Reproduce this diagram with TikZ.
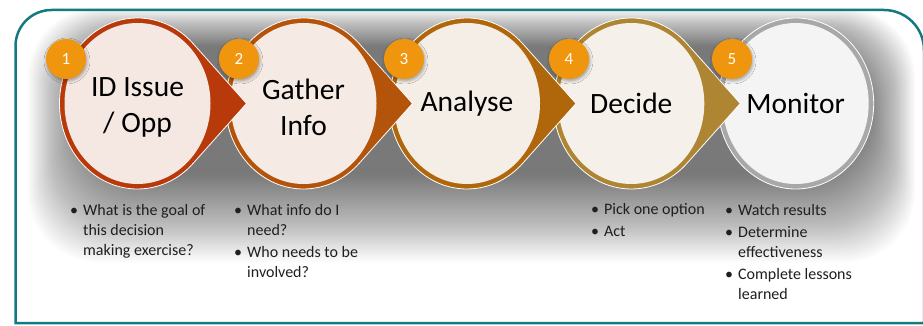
\documentclass[tikz,border=0pt]{standalone}
\usepackage{fontspec}
\setmainfont{Carlito}
\usetikzlibrary{shadows.blur}
\definecolor{frameteal}{HTML}{137A7F}
\definecolor{ringA}{HTML}{B8390A}
\definecolor{ringB}{HTML}{B4540B}
\definecolor{ringC}{HTML}{B0660A}
\definecolor{ringD}{HTML}{AE8532}
\definecolor{ringE}{HTML}{A8A8A8}
\definecolor{paleA}{HTML}{F5E8E3}
\definecolor{paleB}{HTML}{F5EAE4}
\definecolor{paleC}{HTML}{F5EEE6}
\definecolor{paleD}{HTML}{F5F1EA}
\definecolor{paleE}{HTML}{F4F4F4}
\definecolor{badgeorange}{HTML}{F0960E}
\newcommand\tdrop[3]{%
  \fill[#2, draw=white, line width=0.8pt] (#1+109,103.5) -- (#1+55.8,163.2)
    arc[start angle=44.3, end angle=315.7, x radius=78, y radius=85.5] -- cycle;
  \fill[#3] (#1,103.5) ellipse[x radius=73, y radius=80.5];
}
\newcommand\rdisc[3]{%
  \fill[#2, draw=white, line width=0.8pt] (#1,103.5) ellipse[x radius=78, y radius=85.5];
  \fill[#3] (#1,103.5) ellipse[x radius=73, y radius=80.5];
}
\tikzset{
  steplabel/.style={font=\fontsize{29.5}{36}\selectfont, align=center, text=black, inner sep=0pt},
  bul/.style={font=\fontsize{16}{20}\selectfont, align=left, anchor=base west, inner sep=0pt, text=black!88},
  badge/.style={circle, fill=badgeorange, text=white, minimum size=40pt, inner sep=0pt,
    font=\fontsize{17}{17}\selectfont,
    blur shadow={shadow xshift=1pt, shadow yshift=-2pt, shadow blur radius=3pt, shadow opacity=35}},
  frame/.style={draw=frameteal, line width=2.5pt},
  shadelayer/.style={fill=black, fill opacity=0.016, rounded corners=70pt},
}
\begin{document}
\begin{tikzpicture}[x=1pt,y=-1pt]
\useasboundingbox (0,0) rectangle (923,326);
\fill[white] (0,0) rectangle (923,326);
% soft shadow behind the band
\foreach \i in {0,...,39}{
  \fill[shadelayer] (28+1.5*\i,8+\i) rectangle (915-1.25*\i,262-2.25*\i);
}
% frame
\draw[frame] (15.5,323) -- (15.5,46) arc[start angle=180, end angle=270, radius=36]
  -- (884,10) arc[start angle=270, end angle=360, radius=40] -- (924,323) -- cycle;
% circles (right to left so each tip lies over the next circle)
\rdisc{795.7}{ringE}{paleE}
\tdrop{631.3}{ringD}{paleD}
\tdrop{467}{ringC}{paleC}
\tdrop{303.5}{ringB}{paleB}
\tdrop{137.5}{ringA}{paleA}
% labels
\node[steplabel] (s1) at (137.5,107.5) {ID Issue\\/ Opp};
\node[steplabel] (s2) at (303.5,107.5) {Gather\\Info};
\node[steplabel] (s3) at (467,103.5) {Analyse};
\node[steplabel] (s4) at (631.3,103.5) {Decide};
\node[steplabel] (s5) at (795.7,103.5) {Monitor};
% badges
\node[badge] (n1) at (66,59) {1};
\node[badge] (n2) at (239,59) {2};
\node[badge] (n3) at (404,59) {3};
\node[badge] (n4) at (569,59) {4};
\node[badge] (n5) at (732,59) {5};
% bullets (anchored on the baseline of their last line)
\node[bul] (b1) at (83,255) {\llap{\textbullet\hspace{5pt}}What is the goal of\\this decision\\making exercise?};
\node[bul] (b2) at (247,277) {\llap{\textbullet\hspace{5pt}}What info do I\\need?\\[2pt]\llap{\textbullet\hspace{5pt}}Who needs to be\\involved?};
\node[bul] (b4) at (604,236) {\llap{\textbullet\hspace{5pt}}Pick one option\\[2pt]\llap{\textbullet\hspace{5pt}}Act};
\node[bul] (b5) at (738,299) {\llap{\textbullet\hspace{5pt}}Watch results\\[2pt]\llap{\textbullet\hspace{5pt}}Determine\\effectiveness\\[2pt]\llap{\textbullet\hspace{5pt}}Complete lessons\\learned};
\end{tikzpicture}
\end{document}
